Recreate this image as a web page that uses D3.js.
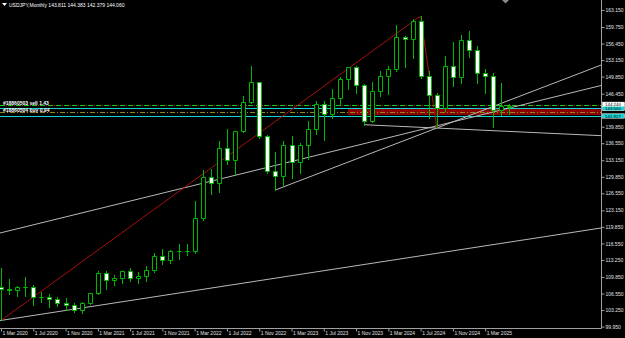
<!DOCTYPE html>
<html>
<head>
<meta charset="utf-8">
<script src="https://cdn.jsdelivr.net/npm/d3@7"></script>
<style>
  body { margin: 0; background: #000; overflow: hidden; }
</style>
</head>
<body>
<script>
// monthly bars, Mar 2020 .. Jun 2025
let months = [
  'Mar 2020', 'Apr 2020', 'May 2020', 'Jun 2020', 'Jul 2020', 'Aug 2020', 'Sep 2020', 'Oct 2020', 'Nov 2020', 'Dec 2020',
  'Jan 2021', 'Feb 2021', 'Mar 2021', 'Apr 2021', 'May 2021', 'Jun 2021', 'Jul 2021', 'Aug 2021', 'Sep 2021', 'Oct 2021', 'Nov 2021', 'Dec 2021',
  'Jan 2022', 'Feb 2022', 'Mar 2022', 'Apr 2022', 'May 2022', 'Jun 2022', 'Jul 2022', 'Aug 2022', 'Sep 2022', 'Oct 2022', 'Nov 2022', 'Dec 2022',
  'Jan 2023', 'Feb 2023', 'Mar 2023', 'Apr 2023', 'May 2023', 'Jun 2023', 'Jul 2023', 'Aug 2023', 'Sep 2023', 'Oct 2023', 'Nov 2023', 'Dec 2023',
  'Jan 2024', 'Feb 2024', 'Mar 2024', 'Apr 2024', 'May 2024', 'Jun 2024', 'Jul 2024', 'Aug 2024', 'Sep 2024', 'Oct 2024', 'Nov 2024', 'Dec 2024',
  'Jan 2025', 'Feb 2025', 'Mar 2025', 'Apr 2025', 'May 2025', 'Jun 2025'
];

let opens = [
  107.90, 107.55, 107.17, 107.80, 107.90, 105.90, 105.90, 105.45, 104.65, 104.30,
  103.25, 104.68, 106.60, 110.70, 109.30, 109.57, 111.10, 109.70, 110.00, 111.30, 113.95, 113.15,
  115.08, 115.10, 114.99, 121.70, 129.80, 128.70, 135.70, 133.25, 138.90, 144.70, 148.70, 138.00,
  131.10, 130.10, 136.20, 132.80, 136.30, 139.30, 144.30, 142.30, 145.50, 149.30, 151.70, 148.20,
  141.00, 146.90, 149.98, 151.35, 157.80, 157.30, 160.90, 150.00, 146.20, 143.60, 152.00, 149.80,
  157.20, 155.20, 150.60, 149.90, 143.10, 143.811
];
let highs = [
  111.70, 109.38, 108.08, 109.85, 108.16, 106.90, 106.50, 105.90, 105.65, 104.75,
  104.95, 106.70, 110.97, 110.96, 110.20, 111.11, 111.66, 110.80, 112.08, 114.69, 115.52, 115.20,
  116.35, 116.34, 125.10, 131.25, 131.35, 137.00, 139.39, 139.08, 145.90, 151.95, 148.80, 138.20,
  134.77, 136.90, 137.91, 136.56, 140.93, 145.07, 145.07, 147.37, 149.71, 151.72, 151.91, 148.30,
  148.80, 150.88, 151.97, 160.20, 157.99, 161.28, 161.95, 150.89, 146.50, 153.88, 156.75, 158.08,
  158.87, 155.89, 151.30, 150.49, 148.65, 144.383
];
let lows = [
  101.18, 106.36, 105.99, 106.07, 104.19, 104.90, 103.90, 104.00, 103.18, 102.88,
  102.59, 104.40, 106.36, 107.48, 108.34, 108.60, 109.05, 108.70, 109.10, 110.80, 112.50, 112.55,
  113.47, 114.15, 114.65, 121.28, 126.36, 126.87, 132.50, 130.40, 138.80, 144.50, 137.50, 130.58,
  127.22, 128.08, 129.64, 130.63, 133.50, 138.43, 137.24, 141.50, 144.44, 147.30, 146.67, 140.25,
  140.80, 145.90, 146.48, 151.00, 151.86, 153.60, 149.60, 141.68, 139.58, 142.97, 148.00, 148.65,
  153.72, 148.57, 146.54, 139.89, 142.10, 142.379
];
let closes = [
  107.55, 107.17, 107.80, 107.90, 105.90, 105.90, 105.45, 104.65, 104.30, 103.25,
  104.68, 106.60, 110.70, 109.30, 109.57, 111.10, 109.70, 110.00, 111.30, 113.95, 113.15, 115.08,
  115.10, 114.99, 121.70, 129.80, 128.70, 135.70, 133.25, 138.90, 144.70, 148.70, 138.00, 131.10,
  130.10, 136.20, 132.80, 136.30, 139.30, 144.30, 142.30, 145.50, 149.30, 151.70, 148.20, 141.00,
  146.90, 149.98, 151.35, 157.80, 157.30, 160.90, 150.00, 146.20, 143.60, 152.00, 149.80, 157.20,
  155.20, 150.60, 149.90, 143.10, 144.00, 144.060
];

// axis labels
let dateTicks = [
  '1 Mar 2020', '1 Jul 2020', '1 Nov 2020', '1 Mar 2021', '1 Jul 2021', '1 Nov 2021',
  '1 Mar 2022', '1 Jul 2022', '1 Nov 2022', '1 Mar 2023', '1 Jul 2023', '1 Nov 2023',
  '1 Mar 2024', '1 Jul 2024', '1 Nov 2024', '1 Mar 2025'
];
let priceTicks = [
  163.150, 159.750, 156.450, 153.150, 149.850, 146.450, 139.850, 136.550, 133.150,
  129.850, 126.550, 123.150, 119.850, 116.550, 113.250, 109.850, 106.550, 103.250, 99.950
];

let title = 'USDJPY,Monthly  143.811 144.383 142.379 144.060';

// zigzag turning points [month, price]
let zigzag = [['Mar 2020', 101.18], ['Jul 2024', 161.95], ['Sep 2024', 139.58]];

// trend lines: two anchors [month, price]
let trendA = [['Mar 2022', 128.17], ['Jul 2024', 139.24]];
let trendB = [['Jan 2023', 127.22], ['Sep 2024', 139.58]];
let trendC = [['Dec 2023', 140.25], ['Sep 2024', 139.58]];
let trendD = [['Mar 2020', 101.18], ['Mar 2025', 116.07]];

// price levels
let orderPrice = 144.24, orderLabel = '#18860503 sell 1.43';
let stopPrice = 142.70, stopLabel = '#18860504 buy 0.94';
let bidPrice = 143.500;
let levelPrice = 141.927;
let zoneTop = 143.50, zoneBottom = 142.15, zoneStart = 'Oct 2023';

//create SVG
let width = 625, height = 338;
let plotRight = 601, plotBottom = 328;
let font = '"Liberation Sans", Arial, sans-serif';

let svg = d3.select('body')
  .append('svg')
  .attr('width', width)
  .attr('height', height)
  .style('background', '#000')
  .style('display', 'block');

let barStep = 8.07;
let xScale = d3.scaleLinear()
  .domain([0, months.length - 1])
  .range([1, 1 + (months.length - 1) * barStep]);

let yScale = d3.scaleLinear()
  .domain([99.95, 163.15])
  .range([326.6, 10]);

let idx = m => months.indexOf(m);
let px = v => Math.round(v) + 0.5;

svg.append('clipPath').attr('id', 'plot')
  .append('rect').attr('x', 0).attr('y', 0).attr('width', plotRight).attr('height', plotBottom);

let plot = svg.append('g').attr('clip-path', 'url(#plot)');

// red zone
plot.append('rect')
  .attr('x', Math.round(xScale(idx(zoneStart))))
  .attr('y', Math.round(yScale(zoneTop)))
  .attr('width', plotRight - Math.round(xScale(idx(zoneStart))))
  .attr('height', Math.round(yScale(zoneBottom)) - Math.round(yScale(zoneTop)))
  .attr('fill', '#8c0000');

// horizontal levels
function hline(price, color, dash, offset) {
  plot.append('line')
    .attr('x1', 0).attr('x2', plotRight)
    .attr('y1', px(yScale(price))).attr('y2', px(yScale(price)))
    .attr('stroke', color)
    .attr('stroke-dasharray', dash)
    .attr('stroke-dashoffset', offset || 0);
}
hline(orderPrice, '#19c819', '5,3');
hline(orderPrice, '#c81919', '1,7', -6);
hline(bidPrice, '#19d3d3', null);
hline(stopPrice, '#8a8a1e', '5,2,1,2');
hline(levelPrice, '#19d3d3', null);

// trend lines
let iLeft = xScale.invert(0), iRight = xScale.invert(plotRight);
function trend(pts, fromStart) {
  let i0 = idx(pts[0][0]), p0 = pts[0][1];
  let i1 = idx(pts[1][0]), p1 = pts[1][1];
  let k = (p1 - p0) / (i1 - i0);
  let a = fromStart ? i0 : iLeft;
  plot.append('line')
    .attr('x1', xScale(a)).attr('y1', yScale(p0 + (a - i0) * k))
    .attr('x2', xScale(iRight)).attr('y2', yScale(p0 + (iRight - i0) * k))
    .attr('stroke', '#b8b8b8')
    .attr('stroke-width', 1);
}
trend(trendA, false);
trend(trendB, true);
trend(trendC, true);
trend(trendD, false);

// zigzag
plot.append('path')
  .datum(zigzag)
  .attr('d', d3.line().x(d => xScale(idx(d[0]))).y(d => yScale(d[1])))
  .attr('fill', 'none')
  .attr('stroke', '#a51010')
  .attr('stroke-width', 1);

// candles
let bars = months.map((m, i) => ({ i: i, o: opens[i], h: highs[i], l: lows[i], c: closes[i] }));
let green = '#00b800';

plot.selectAll('.wick')
  .data(bars)
  .enter()
  .append('line')
  .attr('x1', d => px(xScale(d.i))).attr('x2', d => px(xScale(d.i)))
  .attr('y1', d => Math.round(yScale(d.h))).attr('y2', d => Math.round(yScale(d.l)) + 1)
  .attr('stroke', green);

plot.selectAll('.body')
  .data(bars)
  .enter()
  .append('path')
  .attr('d', d => {
    let cx = px(xScale(d.i));
    let t = px(yScale(Math.max(d.o, d.c)));
    let b = px(yScale(Math.min(d.o, d.c)));
    return `M${cx - 2},${t}H${cx + 2}V${b}H${cx - 2}Z`;
  })
  .attr('fill', d => d.c < d.o ? '#fff' : '#000')
  .attr('stroke', green);

// order labels
svg.append('text')
  .attr('x', 3).attr('y', Math.round(yScale(orderPrice)) - 0.5)
  .attr('fill', '#fff').attr('font-family', font).attr('font-size', 5).attr('font-weight', 'bold')
  .text(orderLabel);
svg.append('text')
  .attr('x', 3).attr('y', Math.round(yScale(stopPrice)) - 0.5)
  .attr('fill', '#fff').attr('font-family', font).attr('font-size', 5).attr('font-weight', 'bold')
  .text(stopLabel);

// frame
svg.append('path')
  .attr('d', `M0,${plotBottom + 0.5}H${plotRight + 0.5}V0`)
  .attr('fill', 'none')
  .attr('stroke', '#a0a0a0');

// price axis
let yAxis = svg.append('g')
  .attr('transform', `translate(${plotRight + 0.5},0)`)
  .call(d3.axisRight(yScale).tickValues(priceTicks).tickFormat(d3.format('.3f')).tickSize(3).tickPadding(1))
  .attr('font-family', font).attr('font-size', 5);
yAxis.select('.domain').remove();
yAxis.selectAll('line').attr('stroke', '#a0a0a0');
yAxis.selectAll('text').attr('fill', '#e0e0e0');

// time axis
let xAxis = svg.append('g')
  .attr('transform', `translate(0,${plotBottom + 0.5})`)
  .call(d3.axisBottom(xScale)
    .tickValues(dateTicks.map(t => idx(t.slice(2))))
    .tickFormat((d, i) => dateTicks[i])
    .tickSize(3).tickPadding(0))
  .attr('font-family', font).attr('font-size', 5);
xAxis.select('.domain').remove();
xAxis.selectAll('line').attr('stroke', '#a0a0a0');
xAxis.selectAll('text').attr('fill', '#e0e0e0').attr('text-anchor', 'start').attr('x', 1);

// price boxes on the axis
function priceBox(price, fill, textColor, txt, shift) {
  let y = Math.round(yScale(price)) + shift;
  svg.append('rect')
    .attr('x', plotRight + 1.5).attr('y', y - 2.2)
    .attr('width', 22).attr('height', 4.4)
    .attr('fill', fill).attr('stroke', '#fff').attr('stroke-width', 0.5);
  svg.append('text')
    .attr('x', plotRight + 4).attr('y', y + 1.5)
    .attr('fill', textColor).attr('font-family', font).attr('font-size', 4.4)
    .text(txt);
}
priceBox(orderPrice, '#fff', '#000', d3.format('.3f')(orderPrice), -0.7);
priceBox(bidPrice, '#19d3d3', '#000', d3.format('.3f')(bidPrice), 0.5);
priceBox(levelPrice, '#19d3d3', '#000', d3.format('.3f')(levelPrice), 0);

// title
svg.append('path').attr('d', 'M2,3H7L4.5,6Z').attr('fill', '#fff');
svg.append('text')
  .attr('x', 9).attr('y', 6.5)
  .attr('fill', '#fff').attr('font-family', font).attr('font-size', 5)
  .text(title);

// chart shift marker
svg.append('path').attr('d', 'M502,0H509L505.5,3.5Z').attr('fill', '#8a8a8a');
</script>
</body>
</html>
